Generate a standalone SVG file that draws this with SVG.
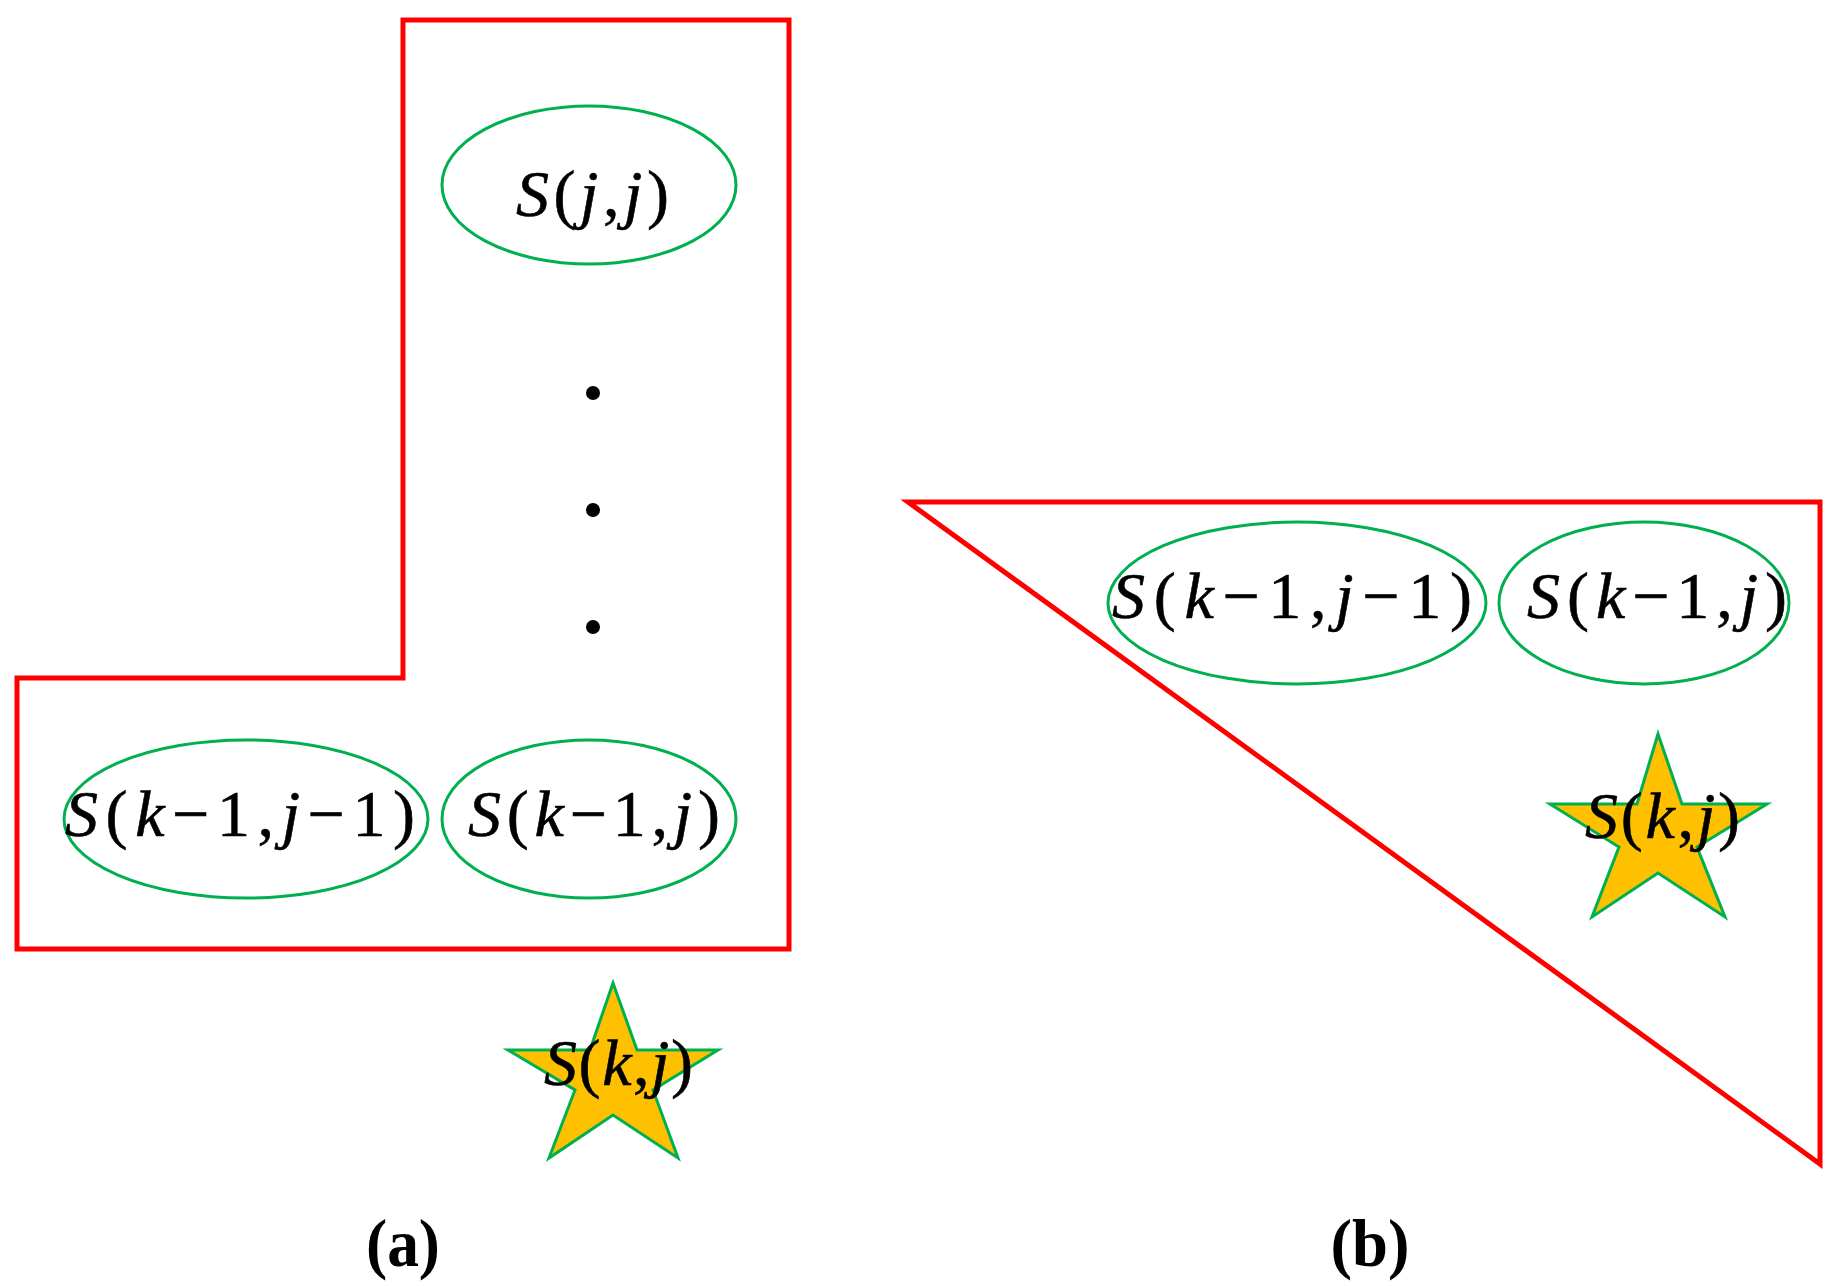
<svg xmlns="http://www.w3.org/2000/svg" width="1835" height="1286" viewBox="0 0 1835 1286">
<style>
.frame{fill:none;stroke:#FF0000;stroke-width:5;stroke-linejoin:miter}
.ell{fill:#FFFFFF;stroke:#00B050;stroke-width:3}
.star{fill:#FFC000;stroke:#00B050;stroke-width:3;stroke-linejoin:miter}
.m{font-family:"Liberation Serif","DejaVu Serif",serif;font-size:66px;fill:#000000;stroke:#000000;stroke-width:0.6}
.i{font-style:italic}
.lbl{font-family:"Liberation Serif","DejaVu Serif",serif;font-size:68px;font-weight:bold;fill:#000000;text-anchor:middle}
</style>
<rect width="1835" height="1286" fill="#FFFFFF"/>
<g id="frames">
<polygon id="frame-a" class="frame" points="403,20 789,20 789,949 17,949 17,678 403,678"/>
<polygon id="frame-b" class="frame" points="908,502 1820,502 1820,1164"/>
</g>
<g id="connectors"></g>
<g id="node-sjj">
<ellipse class="ell" cx="589" cy="185" rx="147" ry="79"/>
<text class="m" x="516" y="216" textLength="153" lengthAdjust="spacing"><tspan class="i">S</tspan>(<tspan class="i">j</tspan>,<tspan class="i">j</tspan>)</text>
</g>
<g id="dots">
<circle cx="593" cy="393" r="7" fill="#000000"/>
<circle cx="593" cy="510" r="7" fill="#000000"/>
<circle cx="593" cy="627" r="7" fill="#000000"/>
</g>
<g id="node-a-km1-jm1">
<ellipse class="ell" cx="246" cy="819" rx="182" ry="79"/>
<text class="m" x="65" y="836" textLength="350" lengthAdjust="spacing"><tspan class="i">S</tspan>(<tspan class="i">k</tspan>−1,<tspan class="i">j</tspan>−1)</text>
</g>
<g id="node-a-km1-j">
<ellipse class="ell" cx="589" cy="819" rx="147" ry="79"/>
<text class="m" x="468" y="836" textLength="252" lengthAdjust="spacing"><tspan class="i">S</tspan>(<tspan class="i">k</tspan>−1,<tspan class="i">j</tspan>)</text>
</g>
<g id="node-a-kj">
<polygon class="star" points="613,983 637,1050 718,1050 653,1090 678,1158 613,1115 549,1158 575,1090 508,1050 590,1050"/>
<text class="m" x="544" y="1085" textLength="149" lengthAdjust="spacing"><tspan class="i">S</tspan>(<tspan class="i">k</tspan>,<tspan class="i">j</tspan>)</text>
</g>
<g id="node-b-km1-jm1">
<ellipse class="ell" cx="1297" cy="603" rx="189" ry="81"/>
<text class="m" x="1112" y="618" textLength="360" lengthAdjust="spacing"><tspan class="i">S</tspan>(<tspan class="i">k</tspan>−1,<tspan class="i">j</tspan>−1)</text>
</g>
<g id="node-b-km1-j">
<ellipse class="ell" cx="1644" cy="603" rx="145" ry="81"/>
<text class="m" x="1527" y="618" textLength="260" lengthAdjust="spacing"><tspan class="i">S</tspan>(<tspan class="i">k</tspan>−1,<tspan class="i">j</tspan>)</text>
</g>
<g id="node-b-kj">
<polygon class="star" points="1658,734 1682,804 1767,804 1697,847 1725,917 1658,873 1592,917 1619,847 1550,804 1637,804"/>
<text class="m" x="1585" y="838" textLength="155" lengthAdjust="spacing"><tspan class="i">S</tspan>(<tspan class="i">k</tspan>,<tspan class="i">j</tspan>)</text>
</g>
<g id="labels">
<text class="lbl" x="403" y="1266" textLength="74" lengthAdjust="spacingAndGlyphs">(a)</text>
<text class="lbl" x="1370" y="1266" textLength="79" lengthAdjust="spacingAndGlyphs">(b)</text>
</g>
</svg>
